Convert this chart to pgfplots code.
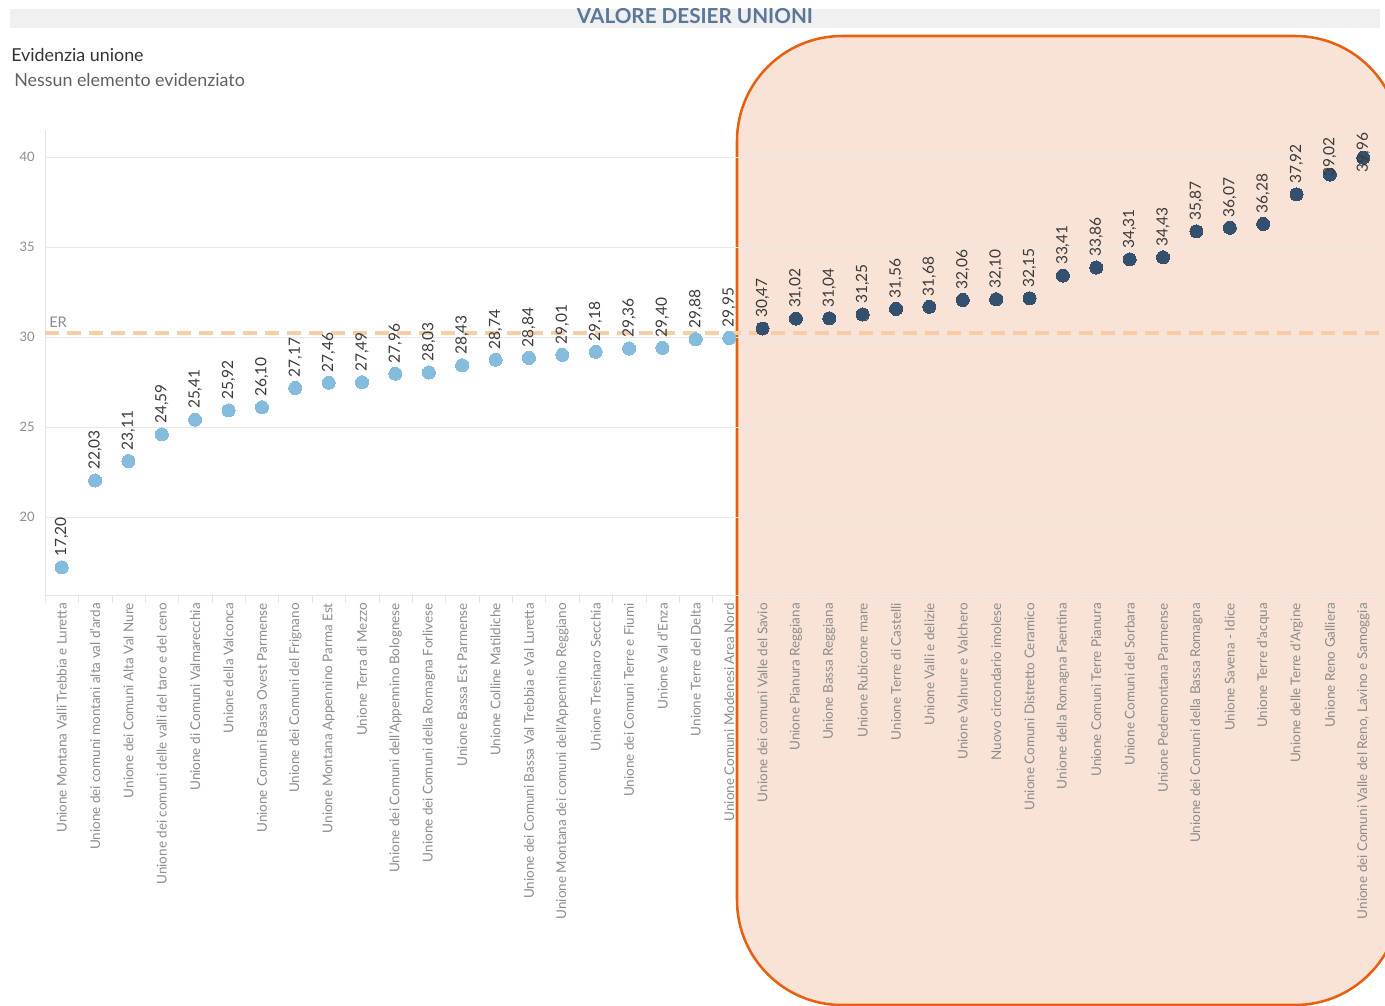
\documentclass[border=0pt]{standalone}
\usepackage{fontspec}
\setmainfont{Lato}
\usepackage{pgfplots}
\pgfplotsset{compat=1.18}
\usepackage{pgfplotstable}
\definecolor{lightpt}{HTML}{85BBDD}
\definecolor{darkpt}{HTML}{34506F}
\definecolor{shade}{HTML}{F9E3D7}
\definecolor{shadeline}{HTML}{E8600F}
\definecolor{erline}{HTML}{F7CDA6}
\definecolor{ticktxt}{HTML}{8C8C8C}
\definecolor{valtxt}{HTML}{3A3A3A}
\definecolor{titletxt}{HTML}{5A7699}
\pgfkeys{/pgf/number format/assume math mode=true}

\pgfplotstableread{
x y off
0 17.20 8
1 22.03 8
2 23.11 8
3 24.59 8
4 25.41 8
5 25.92 8
6 26.10 8
7 27.17 8
8 27.46 8
9 27.49 8
10 27.96 8
11 28.03 8
12 28.43 8
13 28.74 8
14 28.84 8
15 29.01 8
16 29.18 8
17 29.36 8
18 29.40 8
19 29.88 8
20 29.95 8
}\lowtab

\pgfplotstableread{
x y off
21 30.47 8
22 31.02 8
23 31.04 8
24 31.25 8
25 31.56 8
26 31.68 8
27 32.06 8
28 32.10 8
29 32.15 8
30 33.41 8
31 33.86 8
32 34.31 8
33 34.43 8
34 35.87 8
35 36.07 8
36 36.28 8
37 37.92 8
38 39.02 -1.5
39 39.96 -11
}\hightab

\begin{document}
\begin{tikzpicture}
\begin{scope}[x=0.75pt,y=-0.75pt]
  \draw[shadeline, line width=1.9pt, fill=shade, rounded corners=78.75pt] (737,36) rectangle (1400,1005);
  \fill[black!6] (10,9) rectangle (1380,28);
  \begin{scope}
    \clip (10,9) rectangle (1380,28);
    \node[anchor=base, inner sep=0pt, text=titletxt, font=\fontsize{15.5pt}{16pt}\selectfont\bfseries] at (695,24) {VALORE DESIER UNIONI};
  \end{scope}
  \node[anchor=base west, inner sep=0pt, text=black!80, font=\fontsize{13.4pt}{15pt}\selectfont] at (11,62) {Evidenzia unione};
  \node[anchor=base west, inner sep=0pt, text=black!62, font=\fontsize{13.4pt}{15pt}\selectfont] at (14,87) {Nessun elemento evidenziato};
  \node[anchor=base west, inner sep=0pt, text=ticktxt, font=\fontsize{11pt}{13pt}\selectfont] at (49,327) {ER};
\end{scope}
\begin{axis}[
  at={(33.75pt,-446.25pt)}, anchor=south west,
  scale only axis, width=1001.25pt, height=348.75pt,
  xmin=-0.5, xmax=39.5, ymin=15.667, ymax=41.5,
  clip=false,
  axis x line*=bottom, axis y line*=left,
  axis line style={draw=black!10, -},
  ymajorgrids, grid style={draw=black!9},
  ytick={20,25,30,35,40},
  xtick={0,...,39},
  minor xtick={-0.5,0.5,...,39.5},
  major tick length=0pt, minor tick length=6pt, tick align=outside,
  tick style={draw=black!10},
  yticklabel style={font=\fontsize{9.75pt}{11pt}\selectfont, text=ticktxt, anchor=east, inner sep=0pt, xshift=-7.5pt},
  xticklabel style={font=\fontsize{10.1pt}{12pt}\selectfont, text=ticktxt, rotate=90, anchor=east, inner xsep=6pt, inner ysep=0pt},
  xticklabels={
    Unione Montana Valli Trebbia e Luretta,
    Unione dei comuni montani alta val d'arda,
    Unione dei Comuni Alta Val Nure,
    Unione dei comuni delle valli del taro e del ceno,
    Unione di Comuni Valmarecchia,
    Unione della Valconca,
    Unione Comuni Bassa Ovest Parmense,
    Unione dei Comuni del Frignano,
    Unione Montana Appennino Parma Est,
    Unione Terra di Mezzo,
    Unione dei Comuni dell'Appennino Bolognese,
    Unione dei Comuni della Romagna Forlivese,
    Unione Bassa Est Parmense,
    Unione Colline Matildiche,
    Unione dei Comuni Bassa Val Trebbia e Val Luretta,
    Unione Montana dei comuni dell'Appennino Reggiano,
    Unione Tresinaro Secchia,
    Unione dei Comuni Terre e Fiumi,
    Unione Val d'Enza,
    Unione Terre del Delta,
    Unione Comuni Modenesi Area Nord,
    Unione dei comuni Valle del Savio,
    Unione Pianura Reggiana,
    Unione Bassa Reggiana,
    Unione Rubicone mare,
    Unione Terre di Castelli,
    Unione Valli e delizie,
    Unione Valnure e Valchero,
    Nuovo circondario imolese,
    Unione Comuni Distretto Ceramico,
    Unione della Romagna Faentina,
    Unione Comuni Terre Pianura,
    Unione Comuni del Sorbara,
    Unione Pedemontana Parmense,
    Unione dei Comuni della Bassa Romagna,
    Unione Savena - Idice,
    Unione Terre d'acqua,
    Unione delle Terre d'Argine,
    Unione Reno Galliera,
    {Unione dei Comuni Valle del Reno, Lavino e Samoggia}
  },
  nodes near coords={\pgfmathprintnumber[fixed,fixed zerofill,precision=2,use comma]{\pgfplotspointmeta}},
  nodes near coords align={},
]
\addplot[erline, line width=3pt, dash pattern=on 10.5pt off 6pt, forget plot, nodes near coords={}] coordinates {(-0.5,30.2) (39.5,30.2)};
\addplot[only marks, mark=*, mark size=4.9pt, color=lightpt, mark options={draw=lightpt, fill=lightpt, line width=0pt},
  point meta=y,
  visualization depends on={\thisrow{off}\as\myoff},
  every node near coord/.append style={yshift=\myoff pt, rotate=90, anchor=west, inner sep=0pt, text=valtxt, font=\fontsize{11.6pt}{13pt}\selectfont}]
  table[x=x,y=y] {\lowtab};
\addplot[only marks, mark=*, mark size=4.9pt, color=darkpt, mark options={draw=darkpt, fill=darkpt, line width=0pt},
  point meta=y,
  visualization depends on={\thisrow{off}\as\myoff},
  every node near coord/.append style={yshift=\myoff pt, rotate=90, anchor=west, inner sep=0pt, text=valtxt, font=\fontsize{11.6pt}{13pt}\selectfont}]
  table[x=x,y=y] {\hightab};
\end{axis}
\begin{scope}[x=0.75pt,y=-0.75pt]
  \pgfresetboundingbox
  \path[use as bounding box] (0,0) rectangle (1385,1006);
\end{scope}
\end{tikzpicture}
\end{document}
